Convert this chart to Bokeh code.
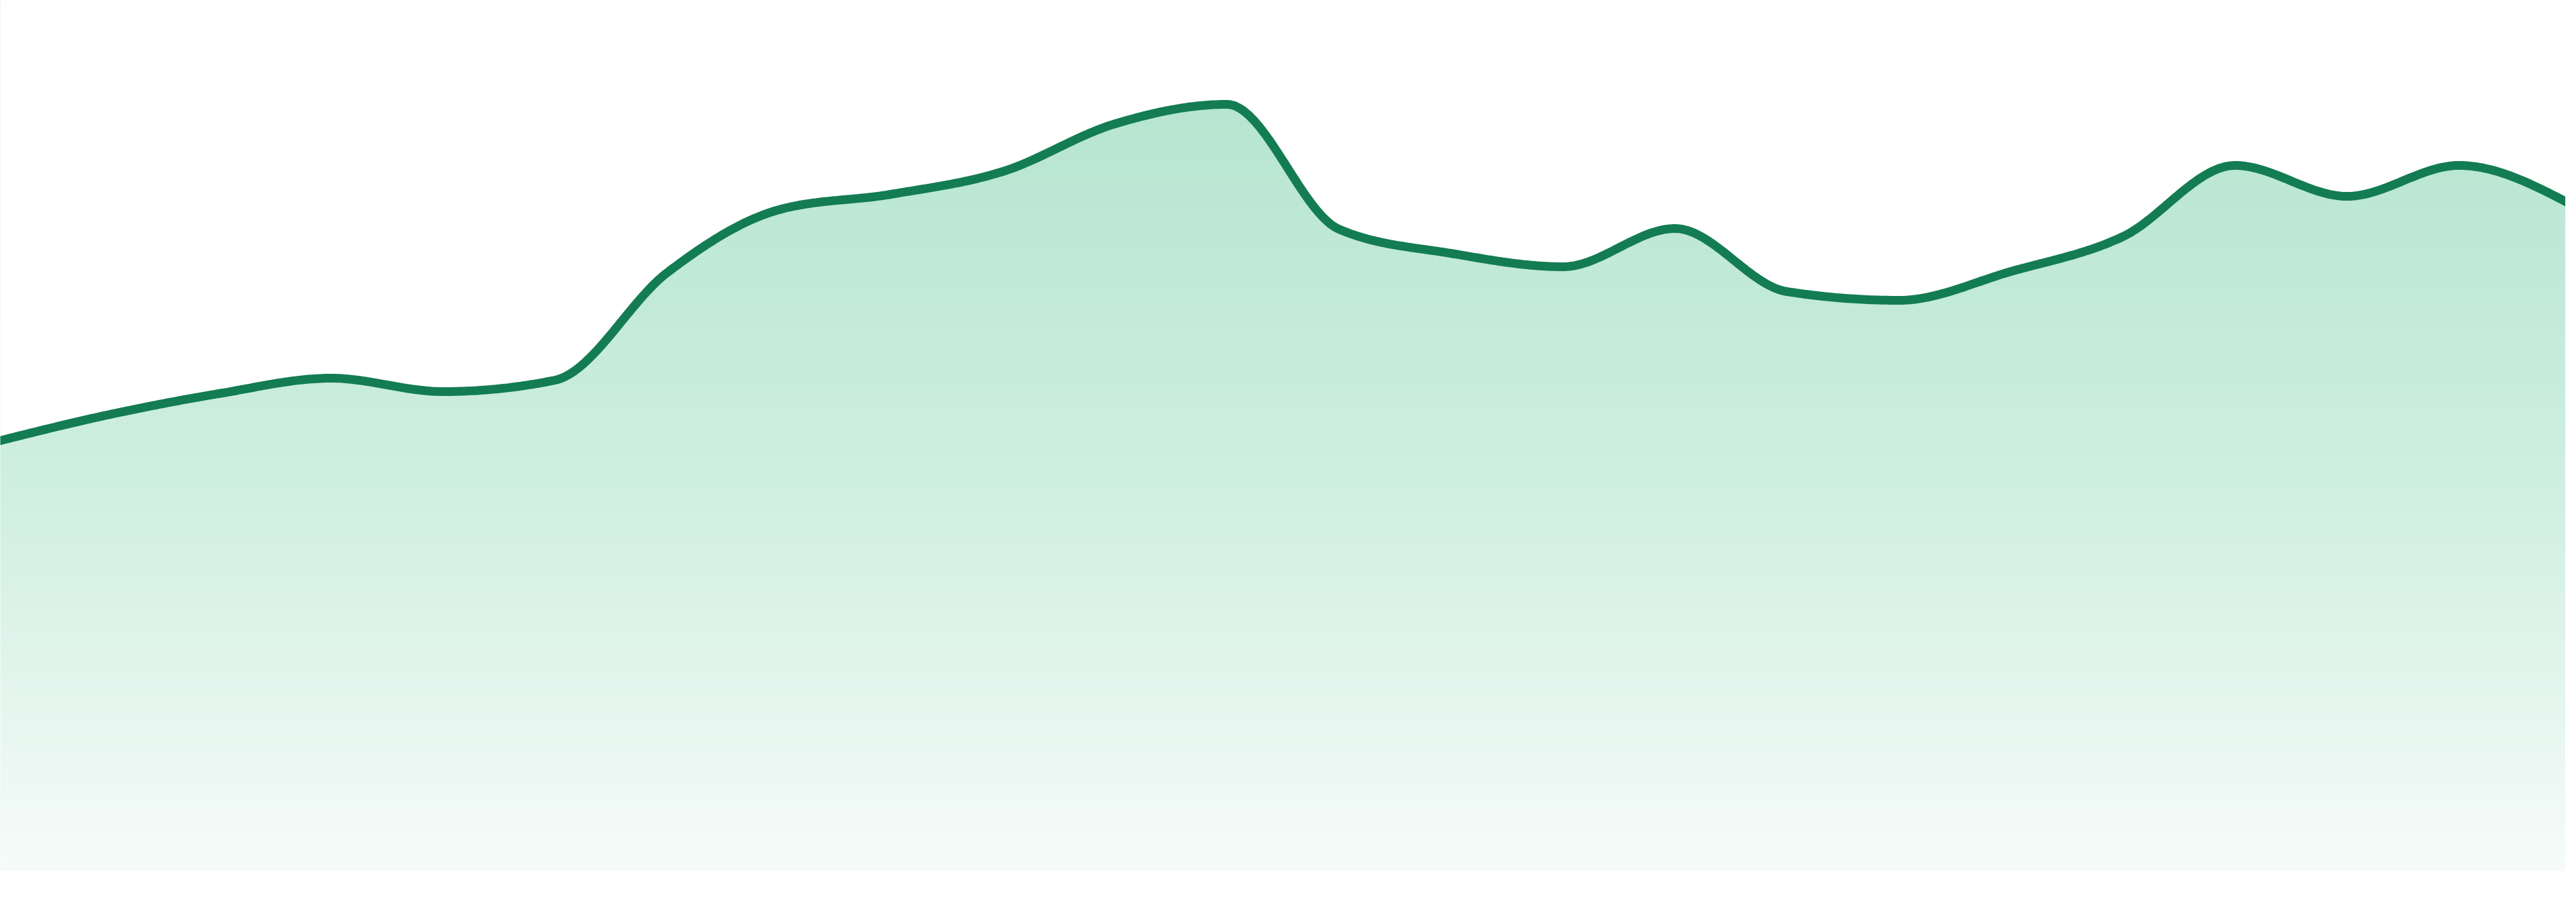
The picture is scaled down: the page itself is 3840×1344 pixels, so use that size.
import numpy as np
from bokeh.plotting import figure
from bokeh.embed import file_html
from bokeh.resources import INLINE

# ---- data ----
periods = list(range(24))
values = [63.9, 67.9, 71.1, 73.4, 71.4, 73.1, 89.1, 98.5, 100.8, 104.2, 111.3, 114.2,
          95.6, 92.0, 90.0, 95.7, 86.3, 85.0, 89.3, 94.5, 105.1, 100.5, 105.1, 99.3]

# ---- styling ----
LINE_COLOR = "#137c52"
GRAD_STOPS = [(0.0, (246, 251, 249)), (60.5, (205, 238, 224)), (114.2, (182, 229, 208))]
Y_MAX = 129.7
X_START, X_END = 0.048, 22.952


def monotone_curve(x, y, samples=40):
    """Render helper: d3 curveMonotoneX path sampled for drawing."""
    x = np.asarray(x, float)
    y = np.asarray(y, float)
    n = len(x)
    h = np.diff(x)
    s = np.diff(y) / h
    t = np.zeros(n)
    for i in range(1, n - 1):
        h0, h1 = h[i - 1], h[i]
        s0, s1 = s[i - 1], s[i]
        p = (s0 * h1 + s1 * h0) / (h0 + h1)
        t[i] = (np.sign(s0) + np.sign(s1)) * min(abs(s0), abs(s1), 0.5 * abs(p))
    t[0] = (3 * s[0] - t[1]) / 2
    t[-1] = (3 * s[-1] - t[-2]) / 2
    xs, ys = [], []
    u = np.linspace(0, 1, samples)
    for i in range(n - 1):
        dx = h[i] / 3
        P0 = (x[i], y[i])
        P1 = (x[i] + dx, y[i] + dx * t[i])
        P2 = (x[i + 1] - dx, y[i + 1] - dx * t[i + 1])
        P3 = (x[i + 1], y[i + 1])
        uu = u if i == 0 else u[1:]
        b0 = (1 - uu) ** 3
        b1 = 3 * (1 - uu) ** 2 * uu
        b2 = 3 * (1 - uu) * uu ** 2
        b3 = uu ** 3
        xs.append(b0 * P0[0] + b1 * P1[0] + b2 * P2[0] + b3 * P3[0])
        ys.append(b0 * P0[1] + b1 * P1[1] + b2 * P2[1] + b3 * P3[1])
    return np.concatenate(xs), np.concatenate(ys)


cx, cy = monotone_curve(periods, values)

p = figure(width=3824, height=1297, x_range=(X_START, X_END), y_range=(0, Y_MAX),
           output_backend="svg", toolbar_location=None, min_border=0,
           background_fill_color="white", border_fill_color="white")
p.outline_line_color = None
p.axis.visible = False
p.grid.visible = False

# vertical gradient fill (masked above the curve)
rows = 1297
yy = np.linspace(0, Y_MAX, rows)
stops_v = [s[0] for s in GRAD_STOPS]
cols = np.zeros((rows, 2), dtype=np.uint32)
view = cols.view(dtype=np.uint8).reshape((rows, 2, 4))
for k in range(3):
    ch = np.interp(yy, stops_v, [s[1][k] for s in GRAD_STOPS])
    view[:, :, k] = np.round(ch)[:, None].astype(np.uint8)
view[:, :, 3] = 255
p.image_rgba(image=[cols], x=periods[0], y=0, dw=periods[-1] - periods[0], dh=Y_MAX)

p.varea(x=cx, y1=cy, y2=np.full_like(cy, Y_MAX + 20), fill_color="white", fill_alpha=1.0)

p.line(cx, cy, line_color=LINE_COLOR, line_width=13, line_join="round", line_cap="round")

open("out.html", "w").write(file_html(p, INLINE))
